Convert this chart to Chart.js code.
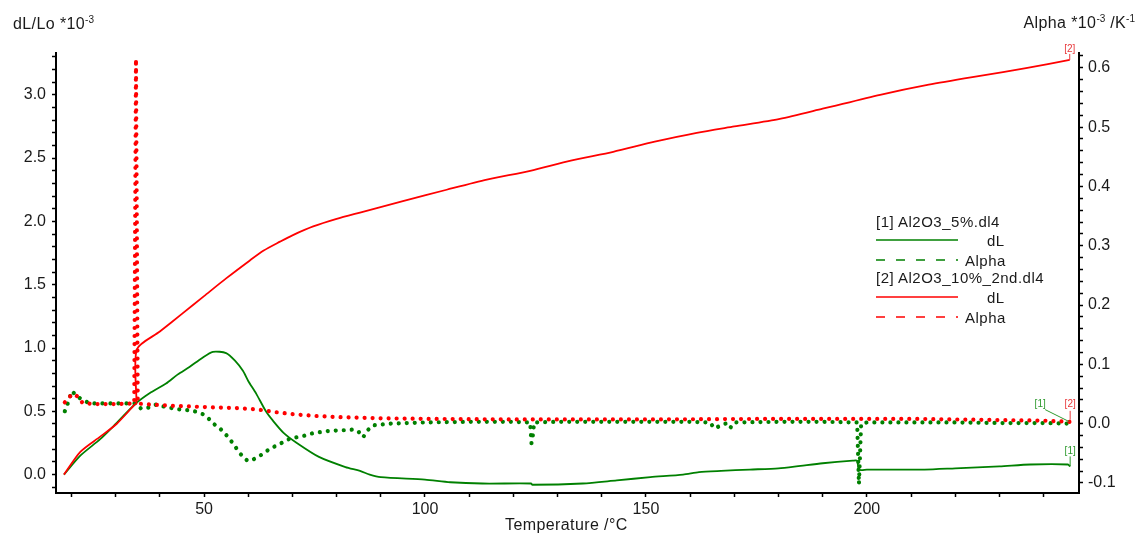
<!DOCTYPE html>
<html>
<head>
<meta charset="utf-8">
<title>dL/Lo and Alpha vs Temperature</title>
<script src="https://cdn.jsdelivr.net/npm/chart.js@4.4.0/dist/chart.umd.min.js"></script>
<style>
  html, body { margin: 0; padding: 0; background: #fff; }
  #wrap { position: relative; width: 1140px; height: 534px; font-family: "Liberation Sans", Arial, sans-serif; color: #1a1a1a; }
  #chart { position: absolute; left: 0; top: 0; }
  .lbl { position: absolute; white-space: nowrap; line-height: 1; font-size: 16px; letter-spacing: 0.4px; }
  .lbl sup { font-size: 10px; vertical-align: 6px; line-height: 0; letter-spacing: 0; }
  .leg { position: absolute; white-space: nowrap; font-size: 15px; letter-spacing: 0.5px; line-height: 1; }
  #legLines { position: absolute; left: 0; top: 0; pointer-events: none; }
</style>
</head>
<body>
<div id="wrap">
  <canvas id="chart" width="1140" height="534"></canvas>

  <!-- axis titles -->
  <div class="lbl" style="left:13px; top:16px;">dL/Lo *10<sup>-3</sup></div>
  <div class="lbl" style="right:5px; top:15px;">Alpha *10<sup>-3</sup> /K<sup>-1</sup></div>
  <div class="lbl" style="left:505px; top:517px;">Temperature /°C</div>

  <!-- legend -->
  <div class="leg" style="left:876px; top:214px;">[1] Al2O3_5%.dl4</div>
  <div class="leg" style="left:987px; top:233px;">dL</div>
  <div class="leg" style="left:965px; top:253px;">Alpha</div>
  <div class="leg" style="left:876px; top:270px;">[2] Al2O3_10%_2nd.dl4</div>
  <div class="leg" style="left:987px; top:290px;">dL</div>
  <div class="leg" style="left:965px; top:310px;">Alpha</div>
  <svg id="legLines" width="1140" height="534">
    <line x1="876" y1="240" x2="958" y2="240" stroke="#008000" stroke-width="1.5"/>
    <line x1="876" y1="260" x2="958" y2="260" stroke="#008000" stroke-width="1.5" stroke-dasharray="9 11"/>
    <line x1="876" y1="297" x2="958" y2="297" stroke="#ff0000" stroke-width="1.5"/>
    <line x1="876" y1="317" x2="958" y2="317" stroke="#ff0000" stroke-width="1.5" stroke-dasharray="9 11"/>
  </svg>
</div>

<script>
// --- Data (temperature in °C) ---

// [2] Al2O3_10%_2nd.dl4 : dL/Lo *10^-3
const redDlTemp = [18.3, 22, 26.5, 30.2, 34.4, 34.7, 34.8, 40, 45, 50, 55, 60.3, 63.5, 67.2, 70, 74.7, 80, 85.3, 95, 104.9, 114, 123.8, 133, 142.6, 152, 161.5, 170, 180.3, 190, 203, 214, 225.6, 236, 245.9];
const redDl = [0.0, 0.18, 0.30, 0.40, 0.556, 0.56, 0.99, 1.13, 1.27, 1.41, 1.55, 1.69, 1.77, 1.84, 1.89, 1.96, 2.02, 2.07, 2.16, 2.25, 2.33, 2.40, 2.48, 2.55, 2.63, 2.70, 2.75, 2.81, 2.89, 3.00, 3.08, 3.15, 3.21, 3.275];

// [2] Al2O3_10%_2nd.dl4 : Alpha *10^-3 /K
const redAlphaTemp = [18.5, 19.5, 20.5, 21.5, 22.5, 25, 30, 34.2, 34.6, 35.0, 38, 43, 50, 58, 62, 65.5, 70, 75, 80, 90, 100, 120, 150, 180, 210, 230, 240, 246];
const redAlpha = [0.036, 0.045, 0.05, 0.045, 0.035, 0.033, 0.033, 0.034, 0.615, 0.034, 0.032, 0.030, 0.028, 0.026, 0.024, 0.020, 0.016, 0.013, 0.011, 0.009, 0.008, 0.007, 0.007, 0.008, 0.008, 0.006, 0.005, 0.003];

// [1] Al2O3_5%.dl4 : dL/Lo *10^-3
const greenDlTemp = [18.3, 22, 26.5, 30, 34.5, 38, 41.4, 44, 46.7, 49.5, 52, 55, 57, 58.8, 60, 61.8, 64, 65.5, 68, 71, 76, 82, 85.3, 87.5, 90, 100, 105.7, 113, 124, 124.3, 135.7, 143.4, 151, 158.4, 162, 167, 173.5, 180, 185, 190, 196.8, 197.8, 198.2, 200, 213, 220, 230, 237, 245.5, 246];
const greenDl = [0.0, 0.15, 0.28, 0.40, 0.56, 0.65, 0.72, 0.79, 0.85, 0.92, 0.97, 0.96, 0.90, 0.82, 0.74, 0.64, 0.50, 0.43, 0.33, 0.25, 0.14, 0.06, 0.03, 0.0, -0.02, -0.04, -0.06, -0.07, -0.07, -0.08, -0.07, -0.045, -0.02, 0.0, 0.02, 0.03, 0.04, 0.05, 0.07, 0.09, 0.11, 0.11, 0.04, 0.04, 0.04, 0.05, 0.065, 0.08, 0.08, 0.065];

// [1] Al2O3_5%.dl4 : Alpha *10^-3 /K
const greenAlphaTemp = [18.5, 19.2, 20.1, 21.4, 24.1, 28, 32.7, 34.5, 35.8, 37.5, 39.1, 41.4, 44.3, 47.4, 49.7, 51.1, 52.1, 53.6, 55.5, 56.6, 58.1, 59.7, 60.5, 62.7, 65, 67.2, 69.5, 72.4, 74.7, 78.5, 82.4, 83.7, 84.8, 86, 87.2, 88.2, 92, 100, 110, 120, 123.8, 124.1, 124.4, 124.7, 130, 140, 150, 160, 164.5, 165.5, 168, 169, 170, 180, 190, 197.8, 198.2, 198.7, 200, 210, 220, 230, 240, 246];
const greenAlpha = [0.021, 0.035, 0.055, 0.045, 0.034, 0.034, 0.034, 0.034, 0.025, 0.027, 0.032, 0.028, 0.024, 0.022, 0.016, 0.008, 0.0, -0.008, -0.023, -0.034, -0.05, -0.062, -0.063, -0.054, -0.042, -0.034, -0.025, -0.021, -0.016, -0.012, -0.011, -0.01, -0.012, -0.023, -0.01, -0.003, 0.0, 0.002, 0.003, 0.003, 0.002, -0.033, -0.02, 0.002, 0.003, 0.003, 0.003, 0.003, 0.002, -0.008, 0.0, -0.008, 0.002, 0.003, 0.003, 0.002, -0.102, 0.0, 0.002, 0.002, 0.002, 0.001, 0.001, 0.0];

// axis tick layout
const tempTicks = { min: 16.5, max: 248, step: 10, major: 50 };
const dlTicks = { min: -0.145, max: 3.33, step: 0.1, major: 0.5 };
const alphaTicks = { min: -0.117, max: 0.625, step: 0.02, major: 0.1 };

const GREEN = '#008000';
const RED = '#ff0000';
const tickFont = { family: '"Liberation Sans", Arial, sans-serif', size: 16 };

function pts(xs, ys) {
    return xs.map((x, i) => ({ x: x, y: ys[i] }));
}

function isMult(v, m) {
    return Math.abs(v / m - Math.round(v / m)) < 1e-6;
}

function axisGrid() {
    return { drawOnChartArea: false, drawTicks: true, tickLength: 4, tickWidth: 1.5, tickColor: '#000' };
}

// little "[1]" / "[2]" tags with leader lines at the end of each curve
const endTags = {
    id: 'endTags',
    afterDatasetsDraw(chart) {
        const ctx = chart.ctx;
        const sx = chart.scales.x;
        const last = (a) => a[a.length - 1];
        const endOf = (xs, ys, sc) => ({ px: sx.getPixelForValue(last(xs)), py: sc.getPixelForValue(last(ys)) });

        const tags = [
            { p: endOf(redDlTemp, redDl, chart.scales.y), text: '[2]', color: '#e8393c', lx: 0, ly: -11, ax: 0, ay: -6, bx: 0, by: 0 },
            { p: endOf(redAlphaTemp, redAlpha, chart.scales.y2), text: '[2]', color: '#e8393c', lx: 0, ly: -17.5, ax: 0, ay: -11, bx: 0, by: -2 },
            { p: endOf(greenAlphaTemp, greenAlpha, chart.scales.y2), text: '[1]', color: '#2e9a2e', lx: -30, ly: -19, ax: -25, ay: -14, bx: -1, by: -2 },
            { p: endOf(greenDlTemp, greenDl, chart.scales.y), text: '[1]', color: '#2e9a2e', lx: 0, ly: -15.5, ax: 0, ay: -10, bx: 0, by: 0 }
        ];

        ctx.save();
        ctx.font = '10px "Liberation Sans", Arial, sans-serif';
        ctx.textAlign = 'center';
        ctx.textBaseline = 'middle';
        ctx.lineWidth = 1;
        tags.forEach(t => {
            ctx.strokeStyle = t.color;
            ctx.fillStyle = t.color;
            ctx.beginPath();
            ctx.moveTo(t.p.px + t.ax, t.p.py + t.ay);
            ctx.lineTo(t.p.px + t.bx, t.p.py + t.by);
            ctx.stroke();
            ctx.fillText(t.text, t.p.px + t.lx, t.p.py + t.ly);
        });
        ctx.restore();
    }
};

const dotted = { borderWidth: 4.2, borderDash: [0.01, 8], borderCapStyle: 'round', pointRadius: 0, tension: 0, fill: false };
const solid = { borderWidth: 1.8, pointRadius: 0, tension: 0.25, fill: false };

new Chart(document.getElementById('chart'), {
    type: 'line',
    data: {
        datasets: [
            Object.assign({ label: '[2] Alpha', data: pts(redAlphaTemp, redAlpha), borderColor: RED, yAxisID: 'y2', order: 0 }, dotted),
            Object.assign({ label: '[2] dL', data: pts(redDlTemp, redDl), borderColor: RED, yAxisID: 'y', order: 1 }, solid),
            Object.assign({ label: '[1] dL', data: pts(greenDlTemp, greenDl), borderColor: GREEN, yAxisID: 'y', order: 2 }, solid),
            Object.assign({ label: '[1] Alpha', data: pts(greenAlphaTemp, greenAlpha), borderColor: GREEN, yAxisID: 'y2', order: 3 }, dotted)
        ]
    },
    options: {
        responsive: false,
        animation: false,
        layout: { padding: { top: 53, left: 0, right: 0, bottom: 0 } },
        plugins: { legend: { display: false }, tooltip: { enabled: false } },
        scales: {
            x: {
                type: 'linear',
                min: tempTicks.min,
                max: tempTicks.max,
                ticks: {
                    stepSize: tempTicks.step, includeBounds: false, autoSkip: false, maxRotation: 0,
                    padding: 3, color: '#1a1a1a', font: tickFont,
                    callback: v => (isMult(v, tempTicks.major) ? String(v) : '')
                },
                grid: axisGrid(),
                border: { color: '#000', width: 2 },
                afterFit: s => { s.height = 41; }
            },
            y: {
                position: 'left',
                min: dlTicks.min,
                max: dlTicks.max,
                ticks: {
                    stepSize: dlTicks.step, includeBounds: false, autoSkip: false,
                    padding: 6, color: '#1a1a1a', font: tickFont,
                    callback: v => (isMult(v, dlTicks.major) ? v.toFixed(1) : '')
                },
                grid: axisGrid(),
                border: { color: '#000', width: 2 },
                afterFit: s => { s.width = 56; }
            },
            y2: {
                position: 'right',
                min: alphaTicks.min,
                max: alphaTicks.max,
                ticks: {
                    stepSize: alphaTicks.step, includeBounds: false, autoSkip: false,
                    padding: 5, color: '#1a1a1a', font: tickFont,
                    callback: v => (isMult(v, alphaTicks.major) ? v.toFixed(1) : '')
                },
                grid: axisGrid(),
                border: { color: '#000', width: 2 },
                afterFit: s => { s.width = 61; }
            }
        }
    },
    plugins: [endTags]
});
</script>
</body>
</html>
